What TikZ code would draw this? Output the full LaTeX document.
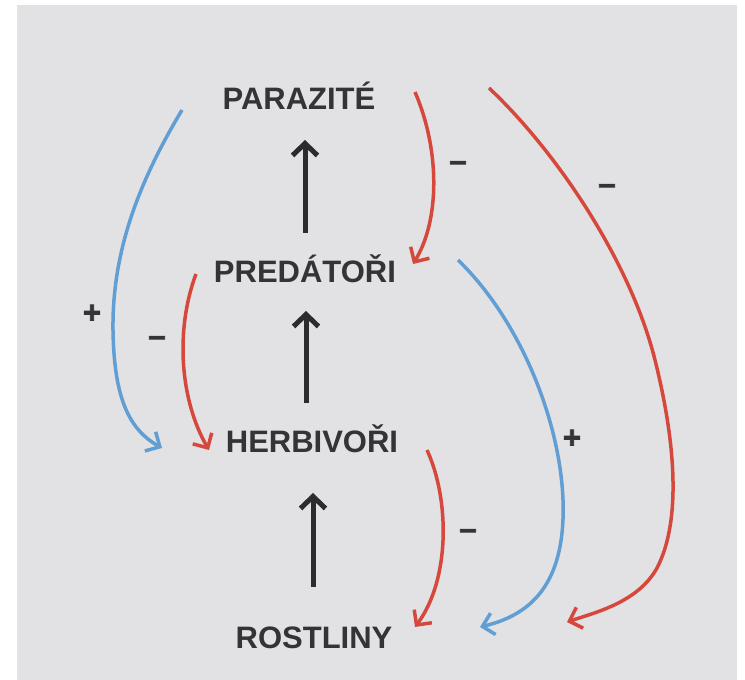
\documentclass[tikz,border=0pt]{standalone}
\usepackage{fontspec}
\setmainfont{Liberation Sans}
\newfontfamily\signfont[FakeBold=2.5]{Liberation Sans Bold}
\usetikzlibrary{arrows.meta}

\definecolor{paper}{RGB}{226,226,229}
\definecolor{ink}{RGB}{52,52,56}
\definecolor{negred}{RGB}{214,72,60}
\definecolor{posblue}{RGB}{96,158,212}

\tikzset{
  level/.style={font=\bfseries\fontsize{31}{31}\selectfont, text=ink, anchor=base, inner sep=0pt},
  sign/.style={font=\signfont\fontsize{31}{31}\selectfont, text=ink, anchor=base, inner sep=0pt},
  feeds/.style={draw=ink!85!black, line width=5pt, -{Straight Barb[length=12pt,width=25pt]}},
  harm/.style={draw=negred, line width=3.5pt, -{Straight Barb[length=11pt,width=22pt]}},
  help/.style={draw=posblue, line width=3.5pt, -{Straight Barb[length=11pt,width=22pt]}},
}

\begin{document}
\begin{tikzpicture}[x=1pt, y=-1pt]
  % page and card
  \useasboundingbox (0,0) rectangle (745,680);
  \fill[white] (0,0) rectangle (745,680);
  \fill[paper] (17,5) rectangle (737,680);

  % trophic levels
  \node[level] (par) at (299,109) {PARAZITÉ};
  \node[level] (pre) at (305,282) {PREDÁTOŘI};
  \node[level] (her) at (312,452) {HERBIVOŘI};
  \node[level] (ros) at (314,648) {ROSTLINY};

  % energy flow upwards
  \coordinate (f1s) at (305,233); \coordinate (f1e) at (305,140);
  \coordinate (f2s) at (306,403); \coordinate (f2e) at (306,311);
  \coordinate (f3s) at (313,587); \coordinate (f3e) at (313,493);
  \draw[feeds] (f1s) -- (f1e);
  \draw[feeds] (f2s) -- (f2e);
  \draw[feeds] (f3s) -- (f3e);

  % negative effects one level down
  \coordinate (n1s) at (415,92);  \coordinate (n1e) at (413,264);
  \coordinate (n2s) at (196,274); \coordinate (n2e) at (209,450);
  \coordinate (n3s) at (427,450); \coordinate (n3e) at (415,627);
  \draw[harm] (n1s) .. controls (440,150) and (440,220) .. (n1e);
  \draw[harm] (n2s) .. controls (175,330) and (180,400) .. (n2e);
  \draw[harm] (n3s) .. controls (450,500) and (450,580) .. (n3e);

  % parasites on plants
  \coordinate (n4s) at (489,88); \coordinate (n4e) at (567,622);
  \draw[harm] (n4s) .. controls (555,150) and (630,260) .. (655,360)
                    .. controls (675,440) and (682,520) .. (657,568)
                    .. controls (638,602) and (597,612) .. (n4e);

  % positive effects two levels down
  \coordinate (p1s) at (182,110); \coordinate (p1e) at (162,448);
  \coordinate (p2s) at (458,260); \coordinate (p2e) at (480,627);
  \draw[help] (p1s) .. controls (140,180) and (112,250) .. (113,330)
                    .. controls (114,400) and (130,430) .. (p1e);
  \draw[help] (p2s) .. controls (520,320) and (560,420) .. (563,500)
                    .. controls (566,585) and (530,615) .. (p2e);

  % signs
  \node[sign] (s1) at (458,171) {–};
  \node[sign] (s2) at (607,194) {–};
  \node[sign] (s3) at (157,346) {–};
  \node[sign] (s4) at (468,539) {–};
  \node[sign] (s5) at (92,323) {+};
  \node[sign] (s6) at (572,448) {+};
\end{tikzpicture}
\end{document}
